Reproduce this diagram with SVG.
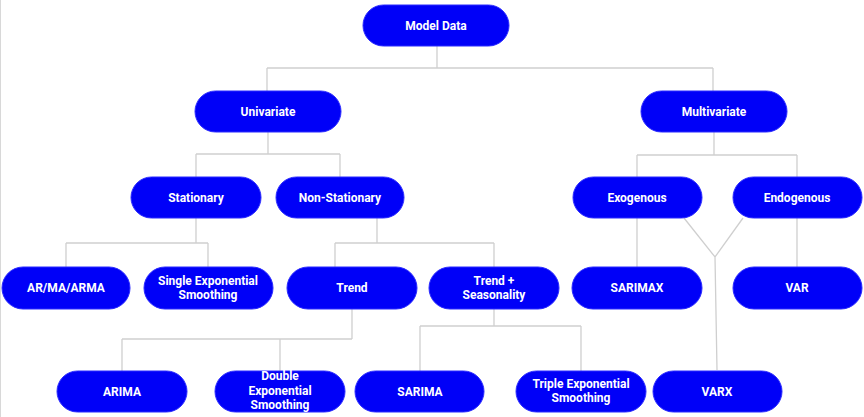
<svg xmlns="http://www.w3.org/2000/svg" width="864" height="417" viewBox="0 0 864 417">
<style>
.n{fill:#0000f8;stroke:#2a2aff;stroke-width:1}
.t{fill:#ffffff;font-family:Roboto,"Liberation Sans",sans-serif;font-size:12px;font-weight:bold;text-anchor:middle}
.c{fill:none;stroke:#cfcfcf;stroke-width:1.3}
</style>
<rect x="0" y="0" width="864" height="417" fill="#ffffff"/>
<line x1="0.5" y1="0" x2="0.5" y2="417" stroke="#d8d8d8" stroke-width="1"/>
<g id="connectors">
<path class="c" d="M437 46V68M267 68H713M267 68V91M713 68V91"/>
<path class="c" d="M268 132V154M196 154H340M196 154V177M340 154V177"/>
<path class="c" d="M714 132V155M637 155H797M637 155V177M797 155V177"/>
<path class="c" d="M196 218V243M66 243H208M66 243V267M208 243V267"/>
<path class="c" d="M377 218V243M335 243H494M335 243V267M494 243V267"/>
<path class="c" d="M352 309V339M122 339H352M122 339V371M280 339V371"/>
<path class="c" d="M494 309V326M420 326H581M420 326V371M581 326V371"/>
<path class="c" d="M637 218V267M797 218V267"/>
<path class="c" d="M684 218L715 257L743 218M715 257L717 370"/>
</g>
<g id="model-data"><rect class="n" x="363" y="5" width="146" height="41" rx="20.5"/><text class="t" x="436" y="30">Model Data</text></g>
<g id="univariate"><rect class="n" x="195" y="91" width="146" height="41" rx="20.5"/><text class="t" x="268" y="116">Univariate</text></g>
<g id="multivariate"><rect class="n" x="641" y="91" width="146" height="41" rx="20.5"/><text class="t" x="714" y="116">Multivariate</text></g>
<g id="stationary"><rect class="n" x="131" y="177" width="130" height="41" rx="20.5"/><text class="t" x="196" y="202">Stationary</text></g>
<g id="non-stationary"><rect class="n" x="276" y="177" width="128" height="41" rx="20.5"/><text class="t" x="340" y="202">Non-Stationary</text></g>
<g id="exogenous"><rect class="n" x="573" y="177" width="129" height="41" rx="20.5"/><text class="t" x="637" y="202">Exogenous</text></g>
<g id="endogenous"><rect class="n" x="733" y="177" width="129" height="41" rx="20.5"/><text class="t" x="797" y="202">Endogenous</text></g>
<g id="ar-ma-arma"><rect class="n" x="2" y="267" width="128" height="42" rx="21"/><text class="t" x="66" y="292">AR/MA/ARMA</text></g>
<g id="single-exp"><rect class="n" x="144" y="267" width="129" height="42" rx="21"/><text class="t" x="208" y="285">Single Exponential</text><text class="t" x="208" y="299">Smoothing</text></g>
<g id="trend"><rect class="n" x="287" y="267" width="130" height="42" rx="21"/><text class="t" x="352" y="292">Trend</text></g>
<g id="trend-seasonality"><rect class="n" x="429" y="267" width="130" height="42" rx="21"/><text class="t" x="494" y="285">Trend +</text><text class="t" x="494" y="299">Seasonality</text></g>
<g id="sarimax"><rect class="n" x="572" y="267" width="130" height="42" rx="21"/><text class="t" x="637" y="292">SARIMAX</text></g>
<g id="var"><rect class="n" x="733" y="267" width="129" height="42" rx="21"/><text class="t" x="797" y="292">VAR</text></g>
<g id="arima"><rect class="n" x="57" y="371" width="130" height="41" rx="20.5"/><text class="t" x="122" y="396">ARIMA</text></g>
<g id="double-exp"><rect class="n" x="215" y="371" width="130" height="41" rx="20.5"/><text class="t" x="280" y="380">Double</text><text class="t" x="280" y="395">Exponential</text><text class="t" x="280" y="409">Smoothing</text></g>
<g id="sarima"><rect class="n" x="355" y="371" width="129" height="41" rx="20.5"/><text class="t" x="420" y="396">SARIMA</text></g>
<g id="triple-exp"><rect class="n" x="516" y="371" width="130" height="41" rx="20.5"/><text class="t" x="581" y="388">Triple Exponential</text><text class="t" x="581" y="402">Smoothing</text></g>
<g id="varx"><rect class="n" x="653" y="371" width="129" height="41" rx="20.5"/><text class="t" x="717" y="396">VARX</text></g>
</svg>
